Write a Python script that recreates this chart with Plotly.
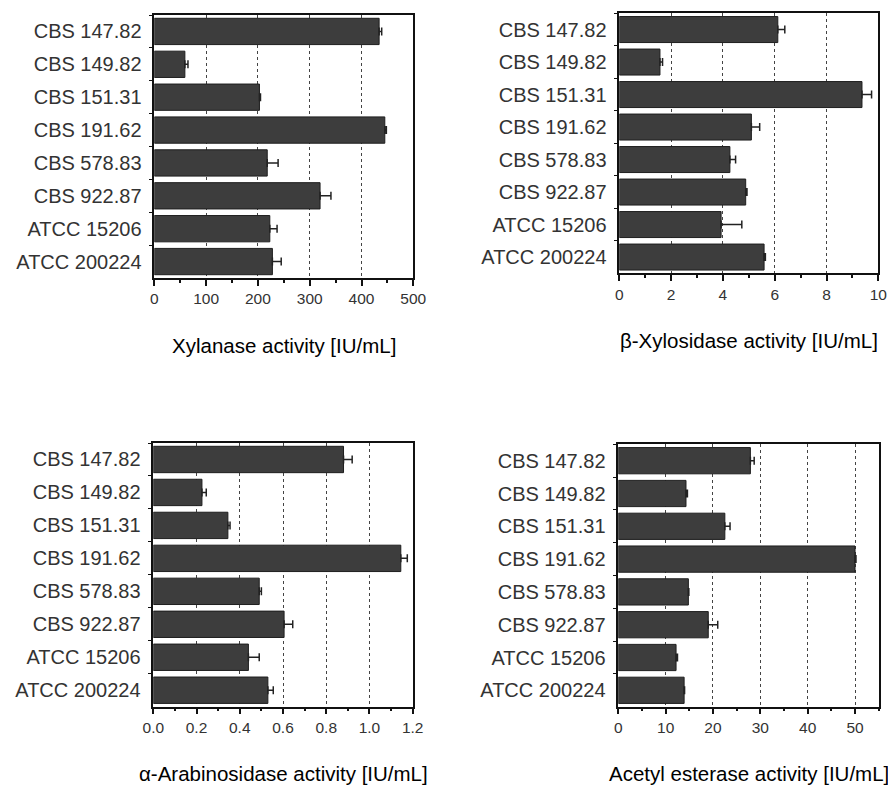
import plotly.graph_objects as go

strains = ["CBS 147.82", "CBS 149.82", "CBS 151.31", "CBS 191.62",
           "CBS 578.83", "CBS 922.87", "ATCC 15206", "ATCC 200224"]

xylanase = [434, 59, 203, 445, 218, 320, 223, 228]
xylanase_err = [5, 6, 2, 3, 21, 21, 14, 17]

xylosidase = [6.12, 1.57, 9.37, 5.10, 4.27, 4.88, 3.93, 5.59]
xylosidase_err = [0.27, 0.10, 0.37, 0.32, 0.22, 0.05, 0.80, 0.05]

arabinosidase = [0.88, 0.225, 0.345, 1.145, 0.49, 0.605, 0.44, 0.53]
arabinosidase_err = [0.04, 0.02, 0.01, 0.03, 0.01, 0.04, 0.05, 0.025]

esterase = [27.9, 14.3, 22.5, 50.0, 14.8, 19.0, 12.2, 13.9]
esterase_err = [0.8, 0.3, 1.1, 0.2, 0.1, 2.0, 0.3, 0.1]

titles = ["Xylanase activity [IU/mL]", "β-Xylosidase activity [IU/mL]",
          "α-Arabinosidase activity [IU/mL]", "Acetyl esterase activity [IU/mL]"]
x_ranges = [[0, 500], [0, 10], [0, 1.2], [0, 55]]
x_dticks = [100, 2, 0.2, 10]
x_minor = [50, 1, 0.1, 5]
tick_formats = ["d", "d", ".1f", "d"]

W, H = 888, 787
# pixel boxes: (left, right, top, bottom)
boxes = [(154.3, 413.3, 15, 278), (619.3, 878.3, 13.3, 273.3),
         (153.3, 412.7, 443, 706.7), (618.3, 878.7, 444.3, 706.7)]

series = [(xylanase, xylanase_err), (xylosidase, xylosidase_err),
          (arabinosidase, arabinosidase_err), (esterase, esterase_err)]

FONT = "Liberation Sans, Arial, sans-serif"
fig = go.Figure()
layout = dict(width=W, height=H, margin=dict(l=0, r=0, t=0, b=0, autoexpand=False),
              paper_bgcolor="white", plot_bgcolor="white", showlegend=False,
              bargap=0.2, font=dict(family=FONT, color="#222"))
annotations = []
for i, ((vals, errs), box) in enumerate(zip(series, boxes)):
    n = i + 1
    xa = "x" if n == 1 else f"x{n}"
    ya = "y" if n == 1 else f"y{n}"
    fig.add_trace(go.Bar(
        x=vals, y=strains, orientation="h", xaxis=xa, yaxis=ya,
        marker=dict(color="#3d3d3d", line=dict(color="#1e1e1e", width=1)),
        error_x=dict(type="data", array=errs, arrayminus=[0] * len(errs),
                     symmetric=False, color="#222", thickness=1.5, width=4),
        width=0.8,
    ))
    l, r, t, b = box
    xkey = "xaxis" if n == 1 else f"xaxis{n}"
    ykey = "yaxis" if n == 1 else f"yaxis{n}"
    layout[xkey] = dict(
        domain=[l / W, r / W], anchor=ya, range=x_ranges[i],
        dtick=x_dticks[i], tick0=0, tickformat=tick_formats[i],
        showline=True, linecolor="#111", linewidth=1.5, mirror=True,
        ticks="outside", ticklen=6, tickwidth=1.5, tickcolor="#111",
        tickfont=dict(size=15.5, color="#333", family=FONT),
        minor=dict(dtick=x_minor[i], ticks="outside", ticklen=3,
                   tickcolor="#111", showgrid=False),
        showgrid=True, gridcolor="#444", griddash="dot", gridwidth=1,
        zeroline=False, fixedrange=True, automargin=False,
    )
    layout[ykey] = dict(
        domain=[1 - b / H, 1 - t / H], anchor=xa, type="category",
        categoryorder="array", categoryarray=strains, autorange="reversed",
        showline=True, linecolor="#111", linewidth=1.5, mirror=True,
        ticks="outside", tickson="boundaries", ticklen=4, tickcolor="#111",
        tickfont=dict(size=20, color="#333", family=FONT),
        ticklabelstandoff=7, showgrid=False, zeroline=False, automargin=False,
    )
    annotations.append(dict(
        text=titles[i], x=(l + r) / 2 / W, y=1 - (b + 67) / H,
        xref="paper", yref="paper", showarrow=False,
        xanchor="center", yanchor="middle",
        font=dict(size=20.5, color="#000", family=FONT),
    ))
layout["annotations"] = annotations
fig.update_layout(**layout)
fig.write_html("out.html", config={"displayModeBar": False})

# remove the default page margin so the figure sits at the window origin
with open("out.html", "r", encoding="utf-8") as f:
    html = f.read()
html = html.replace("<head>", "<head><style>html,body{margin:0;padding:0;overflow:hidden;}</style>", 1)
with open("out.html", "w", encoding="utf-8") as f:
    f.write(html)
